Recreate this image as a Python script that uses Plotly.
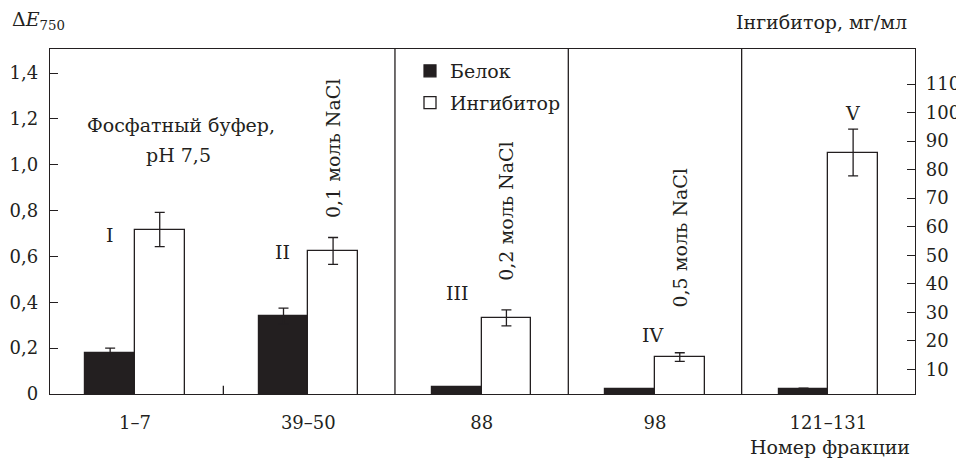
import plotly.graph_objects as go

# ---- data ----
categories = ["1–7", "39–50", "88", "98", "121–131"]
protein = [0.18, 0.34, 0.029, 0.023, 0.023]          # ΔE750 (left axis)
protein_err = [0.02, 0.035, 0.0, 0.0, 0.003]
inhibitor = [59.0, 51.5, 28.0, 14.3, 86.0]            # mg/ml (right axis)
inhibitor_err = [6.0, 4.7, 2.8, 1.5, 8.2]
fraction_labels = ["I", "II", "III", "IV", "V"]
left_ticks = [0, 0.2, 0.4, 0.6, 0.8, 1.0, 1.2, 1.4]
left_ticktext = ["0", "0,2", "0,4", "0,6", "0,8", "1,0", "1,2", "1,4"]
right_ticks = [10, 20, 30, 40, 50, 60, 70, 80, 90, 100, 110]

FONT = "DejaVu Serif"
FS = 19
TFS = 18
INK = "#231f20"
BW = 0.286
idx = list(range(len(categories)))

# page offset (default body margin) and plot area in screen pixels
OFF = 8
W, H = 964 - OFF, 459 - OFF
Ls, Rs, Ts, Bs = 50, 915, 49, 394

def px(xs):
    return (xs - Ls) / (Rs - Ls)

def py(ys):
    return (Bs - ys) / (Bs - Ts)

fig = go.Figure()
fig.add_trace(go.Bar(
    x=[i - BW / 2 for i in idx], y=protein, width=BW, name="Белок",
    marker=dict(color=INK, line=dict(color=INK, width=1.2)),
    error_y=dict(type="data", array=protein_err, color=INK, thickness=1.3, width=5),
    yaxis="y", legendgroup="a",
))
fig.add_trace(go.Bar(
    x=[i + BW / 2 for i in idx], y=inhibitor, width=BW, name="Ингибитор",
    marker=dict(color="white", line=dict(color=INK, width=1.3)),
    error_y=dict(type="data", array=inhibitor_err, color=INK, thickness=1.3, width=5),
    yaxis="y2", legendgroup="b",
))

shapes = []
for xv in [1.5, 2.5, 3.5]:
    shapes.append(dict(type="line", xref="x", yref="paper", x0=xv, x1=xv, y0=0, y1=1,
                       line=dict(color=INK, width=1.3)))
shapes.append(dict(type="line", xref="x", yref="paper", x0=0.51, x1=0.51, y0=0, y1=0.024,
                   line=dict(color=INK, width=1.3)))

ann = []
def txt(x, y, t, xref="x", yref="y", angle=0, xanchor="center", yanchor="middle", size=FS):
    ann.append(dict(x=x, y=y, xref=xref, yref=yref, text=t, showarrow=False, textangle=angle,
                    xanchor=xanchor, yanchor=yanchor, font=dict(family=FONT, size=size, color=INK)))

txt(0.266, 1.173, "Фосфатный буфер,")
txt(0.249, 1.042, "pH 7,5")
label_pos = [(-0.144, 0.693), (0.849, 0.619), (1.858, 0.44), (2.99, 0.257), (4.138, 1.225)]
for (lx, ly), lab in zip(label_pos, fraction_labels):
    txt(lx, ly, lab)
txt(1.143, 1.073, "0,1 моль NaCl", angle=-90)
txt(2.136, 0.80, "0,2 моль NaCl", angle=-90)
txt(3.145, 0.683, "0,5 моль NaCl", angle=-90)
txt(px(10), py(21), "Δ<i>E</i><sub>750</sub>", xref="paper", yref="paper", xanchor="left")
txt(px(909), py(22), "Інгибитор, мг/мл", xref="paper", yref="paper", xanchor="right")
txt(px(912), py(447), "Номер фракции", xref="paper", yref="paper", xanchor="right")

fig.update_layout(
    width=W, height=H,
    margin=dict(l=Ls - OFF, r=(OFF + W) - Rs, t=Ts - OFF, b=(OFF + H) - Bs, autoexpand=False),
    paper_bgcolor="white", plot_bgcolor="white",
    font=dict(family=FONT, size=FS, color=INK),
    showlegend=True,
    legend=dict(x=px(410), y=py(52), xanchor="left", yanchor="top", bgcolor="rgba(0,0,0,0)",
                traceorder="grouped", tracegroupgap=4, font=dict(family=FONT, size=FS),
                itemclick=False),
    xaxis=dict(range=[-0.49, 4.50], tickvals=idx, ticktext=categories, ticks="",
               showline=True, linecolor=INK, linewidth=1.3, mirror=True,
               showgrid=False, zeroline=False, ticklabelstandoff=12, automargin=False,
               tickfont=dict(family=FONT, size=TFS)),
    yaxis=dict(range=[0, 1.505], tickvals=left_ticks, ticktext=left_ticktext,
               ticks="inside", ticklen=8, tickwidth=1.3, tickcolor=INK,
               showline=True, linecolor=INK, linewidth=1.3,
               showgrid=False, zeroline=False, ticklabelstandoff=7, automargin=False,
               tickfont=dict(family=FONT, size=TFS)),
    yaxis2=dict(range=[1.33, 122.3], tickvals=right_ticks, overlaying="y", side="right",
                ticks="inside", ticklen=8, tickwidth=1.3, tickcolor=INK,
                showline=True, linecolor=INK, linewidth=1.3,
                showgrid=False, zeroline=False, ticklabelstandoff=6, automargin=False,
                tickfont=dict(family=FONT, size=TFS)),
    shapes=shapes,
    annotations=ann,
    bargap=0,
)

fig.write_html("out.html")
